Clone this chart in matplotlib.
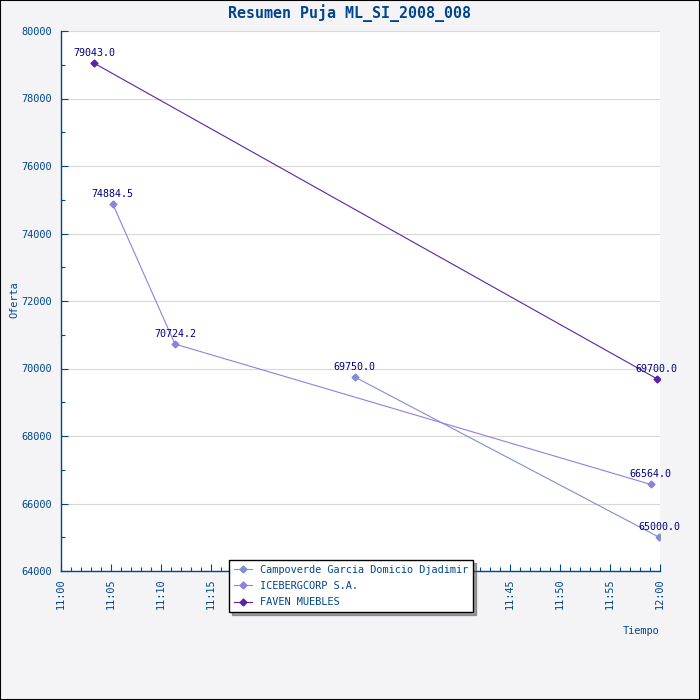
import matplotlib
matplotlib.use("Agg")
import matplotlib.pyplot as plt
from matplotlib.ticker import MultipleLocator, FuncFormatter

# bids per bidder: time (hh:mm:ss) and offer value
campoverde_times = ["11:29:25", "11:59:55"]
campoverde_values = [69750.0, 65000.0]

iceberg_times = ["11:05:10", "11:11:25", "11:59:05"]
iceberg_values = [74884.5, 70724.2, 66564.0]

faven_times = ["11:03:20", "11:59:40"]
faven_values = [79043.0, 69700.0]

series_names = ["Campoverde Garcia Domicio Djadimir", "ICEBERGCORP S.A.", "FAVEN MUEBLES"]
series_colors = ["#7f8fcf", "#9080e0", "#5a22a8"]

title = "Resumen Puja ML_SI_2008_008"
axis_color = "#00468c"
label_color = "#000080"
bg_color = "#f4f4f6"
font = "DejaVu Sans Mono"


def to_minutes(t: str) -> float:
    # minutes after 11:00
    h, m, s = (int(v) for v in t.split(":"))
    return (h - 11) * 60 + m + s / 60


def fmt_time(x, pos):
    total = int(round(x))
    return f"{11 + total // 60}:{total % 60:02d}"


def main():
    fig = plt.figure(figsize=(7, 7), dpi=100, facecolor=bg_color)
    ax = fig.add_axes([61 / 700, 1 - 571 / 700, 599 / 700, 540 / 700])
    ax.set_facecolor("white")

    data = [
        (campoverde_times, campoverde_values),
        (iceberg_times, iceberg_values),
        (faven_times, faven_values),
    ]
    for (times, values), name, color in zip(data, series_names, series_colors):
        xs = [to_minutes(t) for t in times]
        ax.plot(xs, values, color=color, lw=0.8, marker="D", markersize=3.5,
                label=name, zorder=3)
        for x, v in zip(xs, values):
            ax.annotate(f"{v:.1f}", (x, v), xytext=(0, 5), textcoords="offset pixels",
                        ha="center", va="bottom", fontsize=7.2, family=font,
                        color=label_color, zorder=4)

    ax.set_xlim(0, 60)
    ax.set_ylim(64000, 80000)
    ax.xaxis.set_major_locator(MultipleLocator(5))
    ax.xaxis.set_minor_locator(MultipleLocator(1))
    ax.xaxis.set_major_formatter(FuncFormatter(fmt_time))
    ax.yaxis.set_major_locator(MultipleLocator(2000))
    ax.yaxis.set_minor_locator(MultipleLocator(1000))

    ax.grid(axis="y", which="major", color="#d8d8d8", lw=0.8, zorder=0)
    ax.set_axisbelow(True)

    for side in ["top", "right"]:
        ax.spines[side].set_visible(False)
    for side in ["left", "bottom"]:
        ax.spines[side].set_color(axis_color)
        ax.spines[side].set_linewidth(1.0)

    ax.tick_params(axis="both", which="both", direction="in", color=axis_color,
                   labelcolor=axis_color, labelsize=7.4)
    ax.tick_params(axis="both", which="major", length=5, width=0.8)
    ax.tick_params(axis="both", which="minor", length=3, width=0.8)
    ax.tick_params(axis="x", labelrotation=90, pad=5)
    ax.tick_params(axis="y", pad=6.5)
    for lbl in ax.get_xticklabels() + ax.get_yticklabels():
        lbl.set_family(font)

    fig.text(350 / 700, 1 - 13 / 700, title, ha="center", va="center",
             fontsize=10.8, fontweight="bold", family=font, color=axis_color)
    fig.text(14 / 700, 1 - 300 / 700, "Oferta", ha="center", va="center",
             rotation=90, fontsize=7.4, family=font, color=axis_color)
    fig.text(641 / 700, 1 - 631 / 700, "Tiempo", ha="center", va="center",
             fontsize=7.4, family=font, color=axis_color)

    leg = ax.legend(loc="upper left", bbox_to_anchor=((229 - 61) / 599, 11 / 540),
                    borderaxespad=0, fancybox=False, shadow=True, framealpha=1,
                    edgecolor="black", prop={"family": font, "size": 7.4},
                    labelcolor=axis_color, handlelength=1.8, handletextpad=0.8,
                    borderpad=0.45, labelspacing=0.62)
    leg.get_frame().set_linewidth(1.0)
    leg.set_zorder(10)

    # black border around the whole image
    fig.patches.append(plt.Rectangle((0, 0), 1, 1, transform=fig.transFigure,
                                     fill=False, edgecolor="black", lw=1.5))

    fig.savefig("out.png", dpi=100, facecolor=bg_color)


if __name__ == "__main__":
    main()
